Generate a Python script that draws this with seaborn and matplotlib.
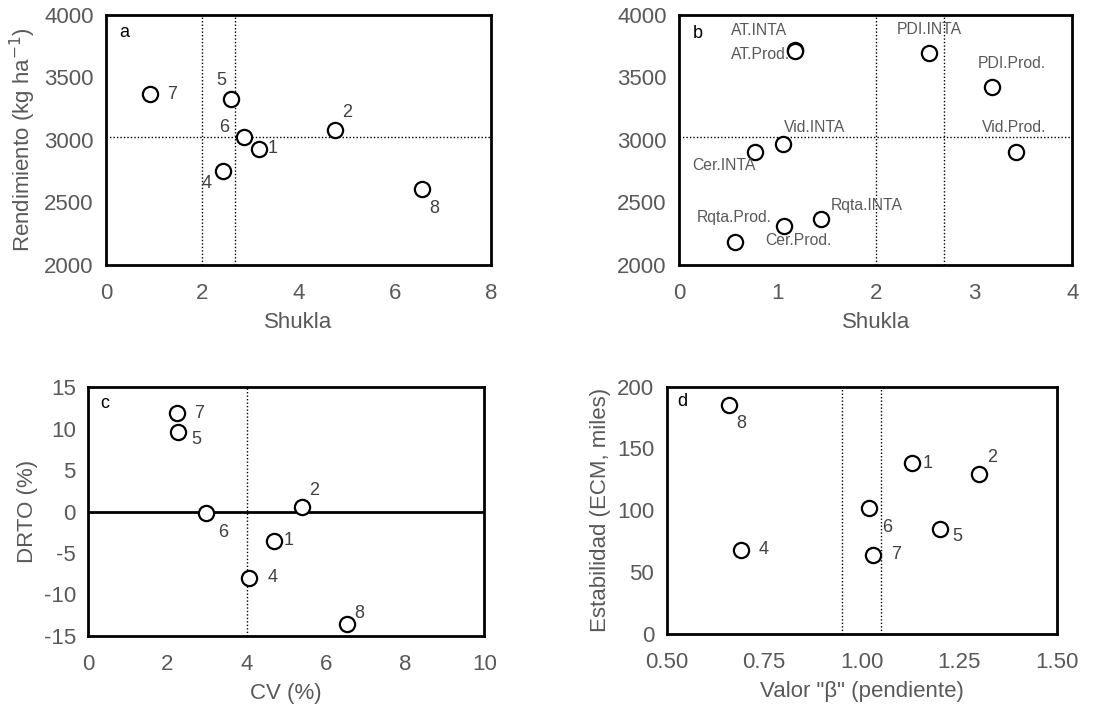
import matplotlib
matplotlib.use("Agg")
import matplotlib.pyplot as plt
import seaborn as sns
import pandas as pd

# ---- data ----
a_labels = ["1", "2", "4", "5", "6", "7", "8"]
a_shukla = [3.17, 4.75, 2.43, 2.60, 2.87, 0.91, 6.57]
a_rend = [2930, 3080, 2750, 3330, 3020, 3365, 2605]

b_labels = ["AT.INTA", "AT.Prod.", "PDI.INTA", "PDI.Prod.", "Vid.INTA", "Vid.Prod.",
            "Cer.INTA", "Cer.Prod.", "Rqta.INTA", "Rqta.Prod."]
b_shukla = [1.18, 1.18, 2.54, 3.18, 1.06, 3.43, 0.77, 1.07, 1.44, 0.57]
b_rend = [3720, 3715, 3695, 3425, 2970, 2905, 2905, 2310, 2365, 2185]

c_labels = ["1", "2", "4", "5", "6", "7", "8"]
c_cv = [4.70, 5.40, 4.07, 2.26, 2.97, 2.23, 6.54]
c_drto = [-3.5, 0.6, -8.0, 9.6, -0.2, 11.9, -13.6]

d_labels = ["1", "2", "4", "5", "6", "7", "8"]
d_beta = [1.13, 1.30, 0.69, 1.20, 1.02, 1.03, 0.66]
d_ecm = [138, 129, 68, 85, 102, 64, 185]

shukla_ref = [2.0, 2.69]
rend_mean = 3025
cv_ref = 4.0
beta_ref = [0.95, 1.05]

# ---- label offsets (pixels) ----
a_off = {"1": (14, 0), "2": (13, 17), "4": (-16, -12), "5": (-10, 18),
         "6": (-20, 10), "7": (22, 0), "8": (12, -19)}
b_off = {"AT.INTA": (-36, 19), "AT.Prod.": (-35, -4), "PDI.INTA": (0, 24),
         "PDI.Prod.": (20, 23), "Vid.INTA": (31, 16), "Vid.Prod.": (-2, 24),
         "Cer.INTA": (-31, -14), "Cer.Prod.": (14, -14), "Rqta.INTA": (46, 14),
         "Rqta.Prod.": (-1, 24)}
c_off = {"1": (14, 0), "2": (12, 16), "4": (23, 0), "5": (19, -7),
         "6": (17, -19), "7": (22, 0), "8": (12, 11)}
d_off = {"1": (15, 0), "2": (14, 17), "4": (23, 0), "5": (18, -8),
         "6": (18, -20), "7": (23, 0), "8": (12, -18)}

sns.set_theme(style="white")
plt.rcParams["font.family"] = ["Liberation Sans", "DejaVu Sans"]
plt.rcParams["axes.unicode_minus"] = False
GRAY = "#595959"

fig = plt.figure(figsize=(11.09, 7.12), dpi=100)
ax_a = fig.add_axes([0.0956, 0.628, 0.3471, 0.351])
ax_b = fig.add_axes([0.6125, 0.628, 0.3545, 0.351])
ax_c = fig.add_axes([0.0796, 0.107, 0.3571, 0.349])
ax_d = fig.add_axes([0.601, 0.1096, 0.3517, 0.3474])


def panel(ax, x, y, labels, offs, lab_size, lab_color):
    df = pd.DataFrame({"x": x, "y": y, "lab": labels})
    sns.scatterplot(data=df, x="x", y="y", ax=ax, s=120, marker="o",
                    facecolor="white", edgecolor="black", linewidth=1.6, zorder=5)
    for xi, yi, lb in zip(x, y, labels):
        dx, dy = offs[lb]
        ax.annotate(lb, (xi, yi), xytext=(dx, dy), textcoords="offset pixels",
                    ha="center", va="center", fontsize=lab_size, color=lab_color,
                    zorder=6)
    for sp in ax.spines.values():
        sp.set_visible(True)
        sp.set_color("black")
        sp.set_linewidth(2.0)
    ax.tick_params(axis="both", length=0, labelsize=16, labelcolor=GRAY)
    ax.tick_params(axis="x", pad=13)
    ax.tick_params(axis="y", pad=9)


panel(ax_a, a_shukla, a_rend, a_labels, a_off, 13, "#404040")
panel(ax_b, b_shukla, b_rend, b_labels, b_off, 11.3, "#595959")
panel(ax_c, c_cv, c_drto, c_labels, c_off, 13, "#404040")
panel(ax_d, d_beta, d_ecm, d_labels, d_off, 13, "#404040")

dot = dict(color="black", linestyle=(0, (1, 1.5)), linewidth=1.0, zorder=1)
for ax in (ax_a, ax_b):
    for v in shukla_ref:
        ax.axvline(v, **dot)
    ax.axhline(rend_mean, **dot)
ax_c.axvline(cv_ref, **dot)
ax_c.axhline(0, color="black", linewidth=2.0, zorder=1)
for v in beta_ref:
    ax_d.axvline(v, **dot)

ax_a.set_xlim(0, 8); ax_a.set_xticks([0, 2, 4, 6, 8])
ax_a.set_ylim(2000, 4000); ax_a.set_yticks([2000, 2500, 3000, 3500, 4000])
ax_b.set_xlim(0, 4); ax_b.set_xticks([0, 1, 2, 3, 4])
ax_b.set_ylim(2000, 4000); ax_b.set_yticks([2000, 2500, 3000, 3500, 4000])
ax_c.set_xlim(0, 10); ax_c.set_xticks([0, 2, 4, 6, 8, 10])
ax_c.set_ylim(-15, 15); ax_c.set_yticks([-15, -10, -5, 0, 5, 10, 15])
ax_d.set_xlim(0.5, 1.5); ax_d.set_xticks([0.5, 0.75, 1.0, 1.25, 1.5])
ax_d.set_xticklabels(["0.50", "0.75", "1.00", "1.25", "1.50"])
ax_d.set_ylim(0, 200); ax_d.set_yticks([0, 50, 100, 150, 200])

lab_kw = dict(fontsize=16, color=GRAY)
ax_a.set_xlabel("Shukla", labelpad=6, **lab_kw)
ax_a.set_ylabel("Rendimiento (kg ha$^{-1}$)", labelpad=4, **lab_kw)
ax_b.set_xlabel("Shukla", labelpad=6, **lab_kw)
ax_b.set_ylabel("")
ax_c.set_xlabel("CV (%)", labelpad=6, **lab_kw)
ax_c.set_ylabel("DRTO (%)", labelpad=4, **lab_kw)
ax_d.set_xlabel('Valor "β" (pendiente)', labelpad=6, **lab_kw)
ax_d.set_ylabel("Estabilidad (ECM, miles)", labelpad=4, **lab_kw)

for ax, letter, (px, py) in ((ax_a, "a", (0.047, 0.93)), (ax_b, "b", (0.048, 0.927)),
                             (ax_c, "c", (0.042, 0.933)), (ax_d, "d", (0.04, 0.94))):
    ax.text(px, py, letter, transform=ax.transAxes, fontsize=13, color="black",
            ha="center", va="center")

fig.savefig("out.png", dpi=100)
